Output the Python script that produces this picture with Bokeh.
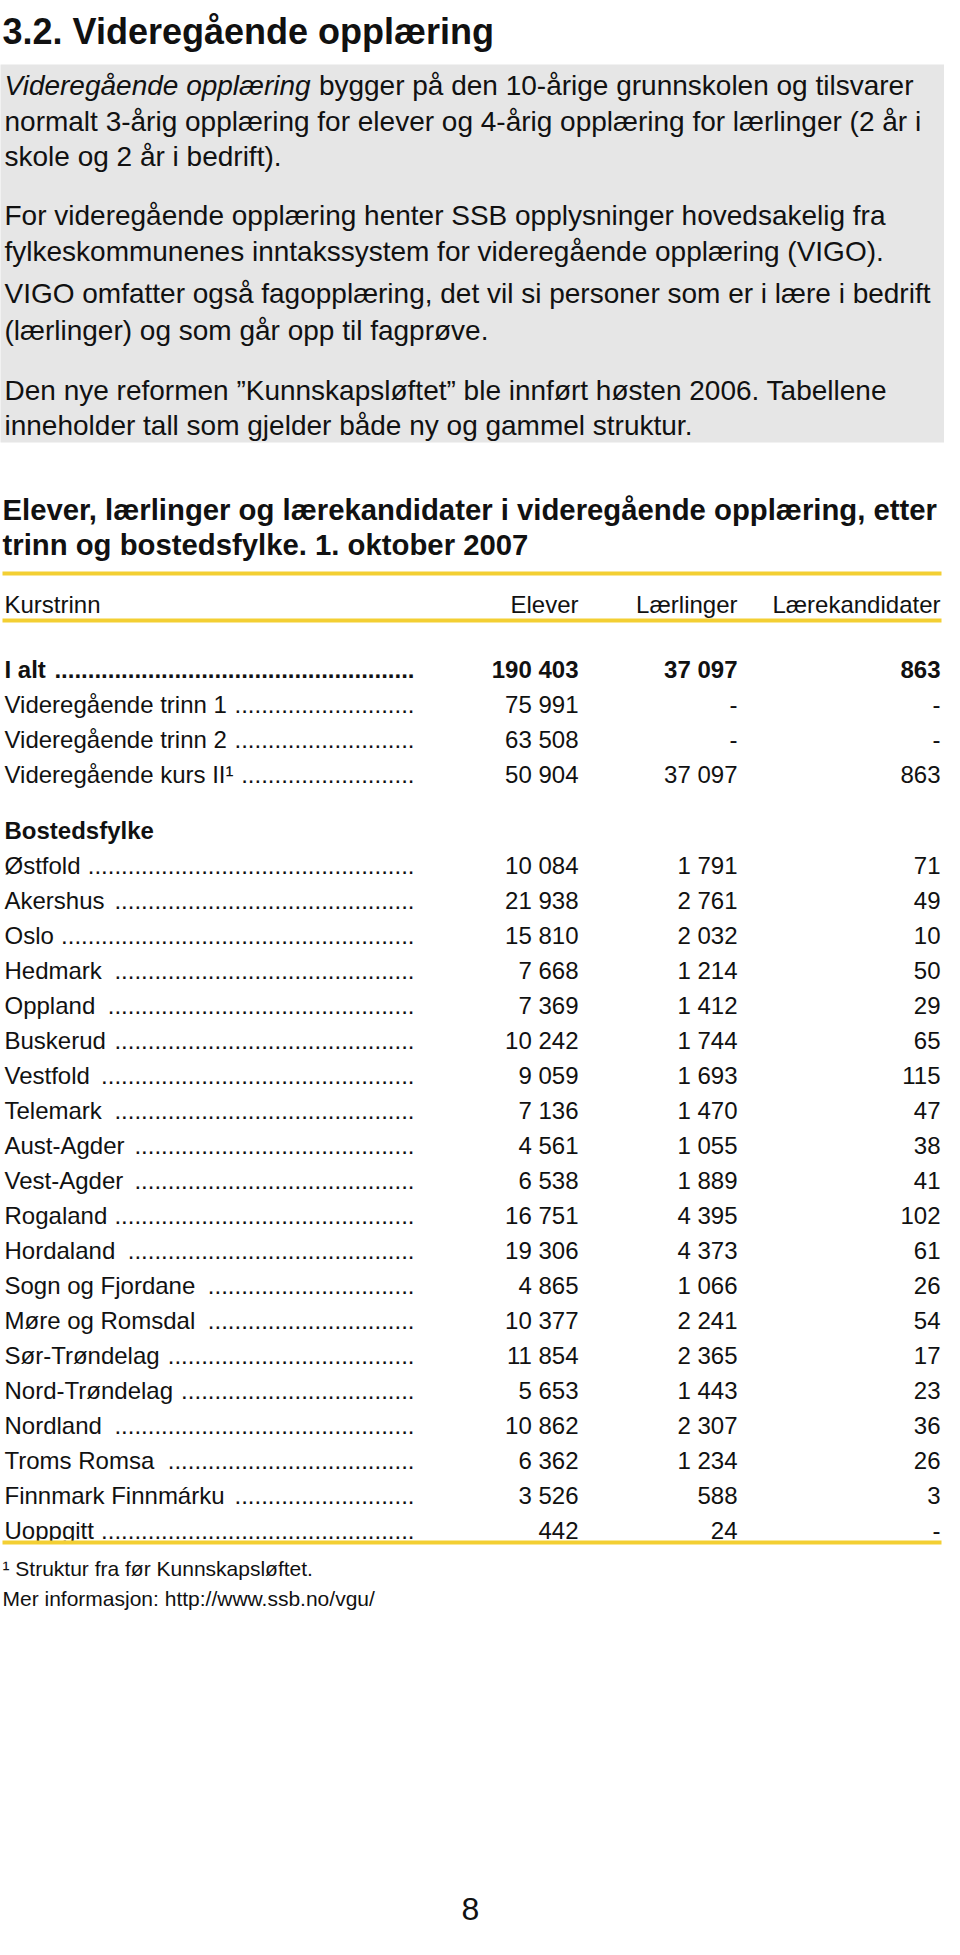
from bokeh.plotting import figure
from bokeh.models import Range1d, ColumnDataSource
from bokeh.core.properties import value
from bokeh.embed import file_html
from bokeh.resources import INLINE

# ---------------- data ----------------
section_title = "3.2. Videregående opplæring"
intro_italic = "Videregående opplæring"
intro_lines = [
    "bygger på den 10-årige grunnskolen og tilsvarer",
    "normalt 3-årig opplæring for elever og 4-årig opplæring for lærlinger (2 år i",
    "skole og 2 år i bedrift).",
    "For videregående opplæring henter SSB opplysninger hovedsakelig fra",
    "fylkeskommunenes inntakssystem for videregående opplæring (VIGO).",
    "VIGO omfatter også fagopplæring, det vil si personer som er i lære i bedrift",
    "(lærlinger) og som går opp til fagprøve.",
    "Den nye reformen ”Kunnskapsløftet” ble innført høsten 2006. Tabellene",
    "inneholder tall som gjelder både ny og gammel struktur.",
]
table_title = [
    "Elever, lærlinger og lærekandidater i videregående opplæring, etter",
    "trinn og bostedsfylke. 1. oktober 2007",
]
headers = ["Kurstrinn", "Elever", "Lærlinger", "Lærekandidater"]

kurstrinn = ["I alt", "Videregående trinn 1", "Videregående trinn 2", "Videregående kurs II¹"]
kurs_elever = [190403, 75991, 63508, 50904]
kurs_laerlinger = [37097, None, None, 37097]
kurs_kandidater = [863, None, None, 863]

group_label = "Bostedsfylke"
fylker = ["Østfold", "Akershus", "Oslo", "Hedmark", "Oppland", "Buskerud", "Vestfold",
          "Telemark", "Aust-Agder", "Vest-Agder", "Rogaland", "Hordaland",
          "Sogn og Fjordane", "Møre og Romsdal", "Sør-Trøndelag", "Nord-Trøndelag",
          "Nordland", "Troms Romsa", "Finnmark Finnmárku", "Uoppgitt"]
elever = [10084, 21938, 15810, 7668, 7369, 10242, 9059, 7136, 4561, 6538, 16751, 19306,
          4865, 10377, 11854, 5653, 10862, 6362, 3526, 442]
laerlinger = [1791, 2761, 2032, 1214, 1412, 1744, 1693, 1470, 1055, 1889, 4395, 4373,
              1066, 2241, 2365, 1443, 2307, 1234, 588, 24]
kandidater = [71, 49, 10, 50, 29, 65, 115, 47, 38, 41, 102, 61, 26, 54, 17, 23, 36, 26, 3, None]

footnotes = ["¹ Struktur fra før Kunnskapsløftet.", "Mer informasjon: http://www.ssb.no/vgu/"]
page_number = "8"

# ---------------- styling ----------------
FONT = "Liberation Sans"
INK = "#111111"
YELLOW = "#f3cf33"
GREY = "#e6e6e6"
INTRO = 28         # px, grey box text
BODY = 24          # px, table text
ROW_H = 35

# Arial / Liberation Sans advance widths (1/1000 em) used to size the dot leaders
REG_W = {" ": 278, "-": 333, ".": 278, "1": 556, "2": 556, "¹": 333,
         "A": 667, "B": 667, "F": 667, "H": 722, "I": 278, "M": 833, "N": 722,
         "O": 778, "R": 722, "S": 667, "T": 611, "U": 722, "V": 667, "Ø": 778,
         "a": 556, "b": 556, "c": 500, "d": 556, "e": 556, "f": 278, "g": 556,
         "h": 556, "i": 222, "j": 222, "k": 500, "l": 222, "m": 833, "n": 556,
         "o": 556, "p": 556, "r": 333, "s": 500, "t": 278, "u": 556, "v": 500,
         "y": 500, "å": 556, "á": 556, "ø": 611, "æ": 889}
BOLD_W = dict(REG_W, **{"a": 556, "l": 278, "t": 333, "i": 278, "I": 278})


def text_width(s, size, bold=False):
    table = BOLD_W if bold else REG_W
    return sum(table.get(c, 556) for c in s) / 1000.0 * size


W, H = 944, 1939
p = figure(width=W, height=H, x_range=Range1d(8, 8 + W), y_range=Range1d(8 + H, 8),
           output_backend="svg", toolbar_location=None, min_border=0,
           x_axis_location=None, y_axis_location=None)
p.grid.visible = False
p.outline_line_color = None
p.background_fill_color = "white"
p.border_fill_color = "white"


def txt(x, y, s, size, align="left", style="normal", font=FONT, color=INK):
    p.text(x=[x], y=[y], text=[s], text_font=value(font), text_font_size=f"{size}px",
           text_align=align, text_baseline="alphabetic", text_font_style=style,
           text_color=color)


def fmt(v):
    return "-" if v is None else f"{v:,}".replace(",", " ")


# section title
txt(10, 39, section_title, 36, style="bold")

# grey intro box
p.quad(left=[3], right=[952], top=[72], bottom=[450], fill_color=GREY, line_color=None)
intro_y = [93, 129, 164, 223, 259, 301, 338, 398, 433]
txt(12, intro_y[0], intro_italic, INTRO, style="italic")
txt(12 + text_width(intro_italic + " ", INTRO), intro_y[0], intro_lines[0], INTRO)
for s, y in zip(intro_lines[1:], intro_y[1:]):
    txt(12, y, s, INTRO)

# table title
txt(10, 517, table_title[0], 29.3, style="bold")
txt(10, 552, table_title[1], 29.3, style="bold")

# header
col_right = [586, 745, 948]
LABEL_X = 12
DOT_END = 422
txt(LABEL_X, 612, headers[0], BODY)
for h, xr in zip(headers[1:], col_right):
    txt(xr, 612, h, BODY, align="right")


def leader(label, bold):
    w = text_width(label + " ", BODY, bold)
    dot = 0.278 * BODY
    n = int((DOT_END - LABEL_X - w) // dot)
    return "." * max(n, 0)


def row_block(labels, c1, c2, c3, y0, bold_first=False):
    n = len(labels)
    ys = [y0 + ROW_H * i for i in range(n)]
    bold = [bold_first and i == 0 for i in range(n)]
    src = ColumnDataSource(dict(
        y=ys, label=labels, style=["bold" if b else "normal" for b in bold],
        dots=[leader(l, b) for l, b in zip(labels, bold)],
        c1=[fmt(v) for v in c1], c2=[fmt(v) for v in c2], c3=[fmt(v) for v in c3],
        x0=[LABEL_X] * n, xd=[DOT_END] * n,
        x1=[col_right[0]] * n, x2=[col_right[1]] * n, x3=[col_right[2]] * n))
    common = dict(source=src, text_font=value(FONT), text_font_size=f"{BODY}px",
                  text_baseline="alphabetic", text_font_style="style", text_color=INK)
    p.text(x="x0", y="y", text="label", text_align="left", **common)
    p.text(x="xd", y="y", text="dots", text_align="right", **common)
    p.text(x="x1", y="y", text="c1", text_align="right", **common)
    p.text(x="x2", y="y", text="c2", text_align="right", **common)
    p.text(x="x3", y="y", text="c3", text_align="right", **common)


row_block(kurstrinn, kurs_elever, kurs_laerlinger, kurs_kandidater, 677, bold_first=True)
txt(LABEL_X, 838, group_label, BODY, style="bold")
row_block(fylker, elever, laerlinger, kandidater, 873)

# yellow rules
for y in (581, 628, 1550):
    p.segment(x0=[10], x1=[949], y0=[y], y1=[y], line_color=YELLOW, line_width=4)

# footnotes
txt(10, 1576, footnotes[0], 21)
txt(10, 1606, footnotes[1], 21)

# page number
txt(478, 1916, page_number, 32, align="center")

open("out.html", "w").write(file_html(p, INLINE))
